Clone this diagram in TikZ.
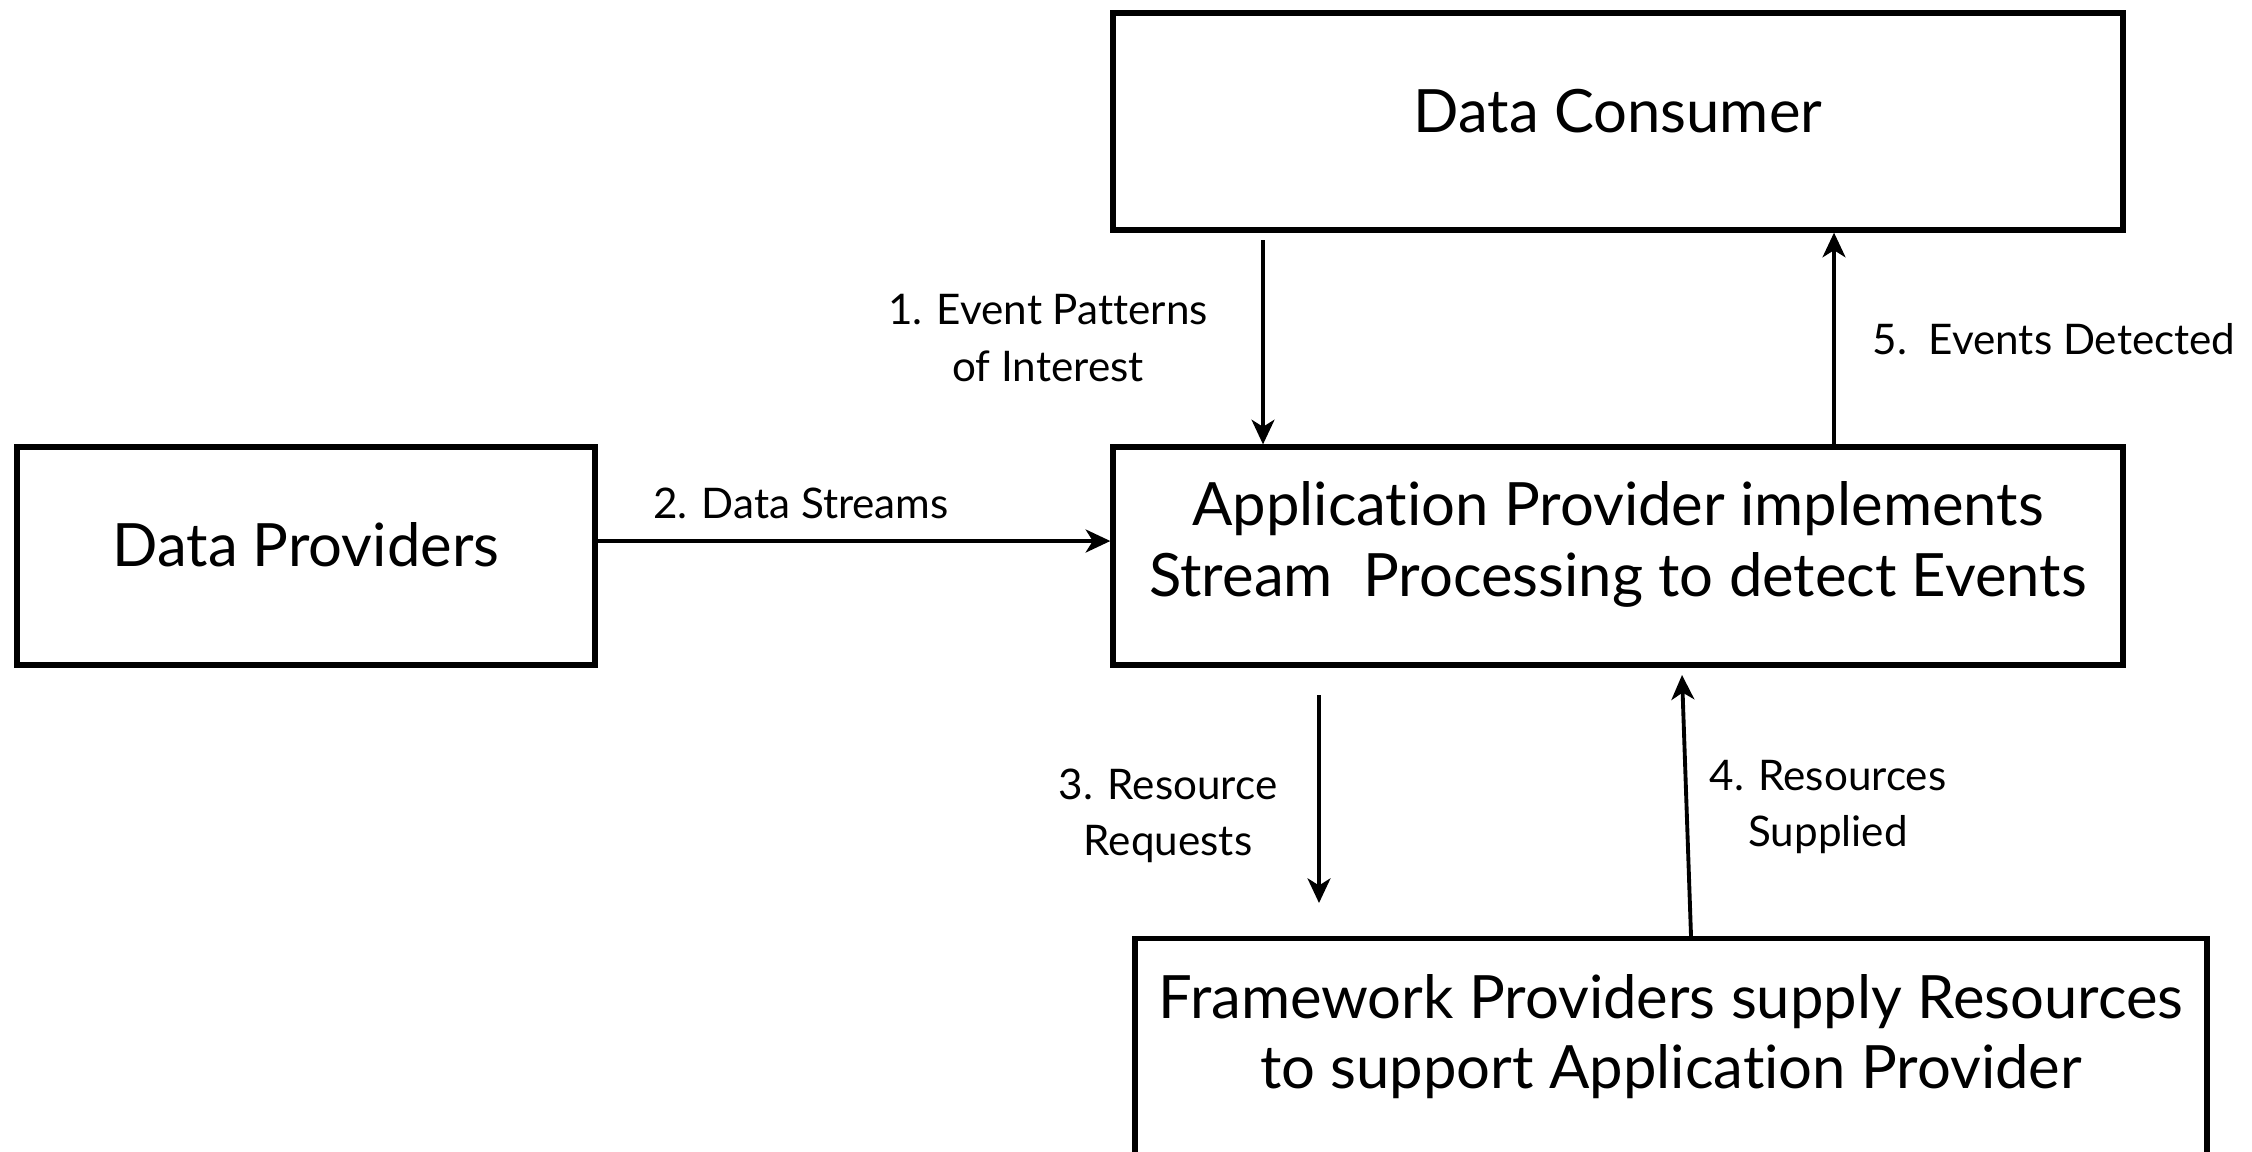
\documentclass[tikz,border=0pt]{standalone}
\usepackage{fontspec}
\setmainfont{Lato}[Ligatures=NoCommon]
\usetikzlibrary{arrows.meta}
\begin{document}
\begin{tikzpicture}[
  box/.style={draw, line width=1.5pt, align=center, font=\fontsize{17}{20}\selectfont},
  lbl/.style={align=center, font=\fontsize{12}{16}\selectfont},
  flow/.style={line width=1.1pt, -{Stealth[length=7pt,width=6.5pt,inset=2pt]}}]
  \clip (0,0) rectangle (22.52,-11.51);

 \node[box, minimum width=10.10cm, minimum height=2.17cm, text depth=0.22cm] (dc) at (16.18,-1.215) {Data Consumer};
 \node[box, minimum width=10.10cm, minimum height=2.18cm, text depth=0.34cm] (ap) at (16.18,-5.56) {Application Provider implements\\Stream\ \ Processing to detect Events};
 \node[box, minimum width=5.78cm, minimum height=2.18cm, text depth=0.24cm] (dp) at (3.06,-5.56) {Data Providers};
 \node[box, minimum width=10.72cm, anchor=north, inner ysep=0.36cm, text depth=2.5cm] (fw) at (16.71,-9.36) {Framework Providers supply Resources\\to support Application Provider};

 \node[lbl] (l1) at (10.48,-3.38) {1. Event Patterns\\of Interest};
 \node[lbl] (l2) at (8.01,-5.03) {2. Data Streams};
 \node[lbl] (l3) at (11.68,-8.16) {3. Resource\\Requests};
 \node[lbl] (l4) at (18.28,-8.07) {4. Resources\\Supplied};
 \node[lbl] (l5) at (20.54,-3.39) {5.\ \ Events Detected};

 \coordinate (e1) at (12.63,-2.40);
 \coordinate (e5) at (18.34,0);
 \coordinate (r1) at (13.19,-6.95);
 \coordinate (r2) at (13.19,-9.03);
 \coordinate (s4) at (16.91,0);
 \coordinate (t4) at (16.82,-6.75);

 \draw[flow] (e1) -- (e1 |- ap.north);
 \draw[flow] (e5 |- ap.north) -- (e5 |- dc.south);
 \draw[flow, line width=1.4pt] ([yshift=1.5mm]dp.east) -- ([yshift=1.5mm]ap.west);
 \draw[flow] (r1) -- (r2);
 \draw[flow] (s4 |- fw.north) -- (t4);

\end{tikzpicture}
\end{document}
